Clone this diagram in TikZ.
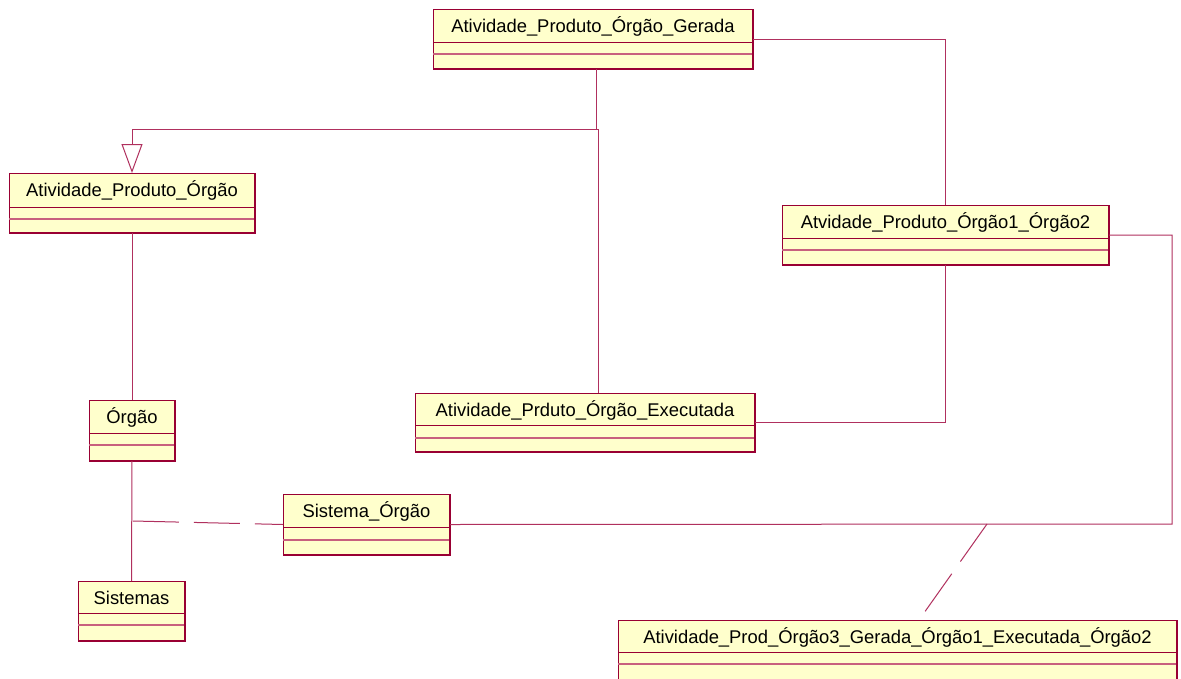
\documentclass[tikz,border=0pt]{standalone}
\usepackage{fontspec}
\setmainfont{Liberation Sans}
\usetikzlibrary{arrows.meta}

\definecolor{umlborder}{HTML}{990033}
\definecolor{umlsep}{HTML}{C8607E}
\definecolor{umlfill}{HTML}{FFFFCC}
\definecolor{umlline}{HTML}{B0305E}

\tikzset{
  classbox/.style={draw=umlborder, fill=umlfill, line width=0.75pt, inner sep=0pt, outer sep=0pt},
  sepdark/.style={draw=umlborder, line width=0.75pt},
  seplight/.style={draw=umlsep, line width=0.9pt},
  shadowedge/.style={draw=umlborder, line width=1.5pt},
  classtitle/.style={font=\fontsize{13.8}{16}\selectfont, text=black, inner sep=0pt, anchor=base},
  assoc/.style={draw=umlline, line width=0.75pt},
  linkdash/.style={assoc, dash pattern=on 34.5pt off 11.25pt},
  generalization/.style={assoc, -{Triangle[open, length=21.75pt, width=15.75pt]}},
}

% a UML class: name, left, top, right, bottom, first and second separator, title
\newcommand{\umlclass}[8]{%
  \node[classbox, anchor=north west,
        minimum width={(#4-#2)*0.75pt}, minimum height={(#5-#3)*0.75pt}] (#1) at (#2,#3) {};
  \draw[sepdark] (#2,#6) -- (#4,#6);
  \draw[seplight] (#2,#7) -- (#4,#7);
  \draw[shadowedge] (#2+1,#5) -- (#4,#5) -- (#4,#3+1);
  \node[classtitle] (#1-title) at ({(#2+#4)/2},{#3+23.5}) {#8};
}

\begin{document}
\begin{tikzpicture}[x=0.75pt, y=-0.75pt]
  \useasboundingbox (0,0) rectangle (1181,678);
  \clip (0,0) rectangle (1181,678);
  \fill[white] (0,0) rectangle (1181,678);

  % classes
  \umlclass{gerada}{433}{9}{753}{69}{42}{54}{Atividade\_Produto\_Órgão\_Gerada}
  \umlclass{apo}{9}{173}{255}{233}{207}{219}{Atividade\_Produto\_Órgão}
  \umlclass{orgao}{89}{400}{175}{461}{433}{445}{Órgão}
  \umlclass{sistemas}{78}{581}{185}{641}{613}{625}{Sistemas}
  \umlclass{sisorg}{283}{494}{450}{555}{527}{540}{Sistema\_Órgão}
  \umlclass{ao12}{782}{205}{1109}{265}{238}{250}{Atvidade\_Produto\_Órgão1\_Órgão2}
  \umlclass{exec}{415}{393}{755}{452}{425}{438}{Atividade\_Prduto\_Órgão\_Executada}
  \umlclass{tri}{618}{620}{1177}{681}{652}{664}{Atividade\_Prod\_Órgão3\_Gerada\_Órgão1\_Executada\_Órgão2}

  % junctions
  \coordinate (genjoin) at (598,129);
  \coordinate (sojoin) at (133,521);
  \coordinate (bend) at (1172,524);
  \coordinate (acjoin) at (987,524);

  % generalization from the generated and executed activities
  \draw[assoc] (gerada.south -| 596,0) |- (genjoin);
  \draw[assoc] (genjoin) -- (exec.north -| genjoin);
  \draw[generalization] (genjoin) -| (apo.north);

  % associations
  \draw[assoc] (gerada.east) -| (ao12.north);
  \draw[assoc] (ao12.south) |- (exec.east);
  \draw[assoc] (ao12.east) -| (bend) -- (sisorg.east);
  \draw[assoc] (apo.south) -- (orgao.north);
  \draw[assoc] (orgao.south) -- (sistemas.north);

  % association classes
  \draw[linkdash] (sojoin) -- (sisorg.west);
  \draw[linkdash] (acjoin) -- (tri.north -| 919,0);
\end{tikzpicture}
\end{document}
